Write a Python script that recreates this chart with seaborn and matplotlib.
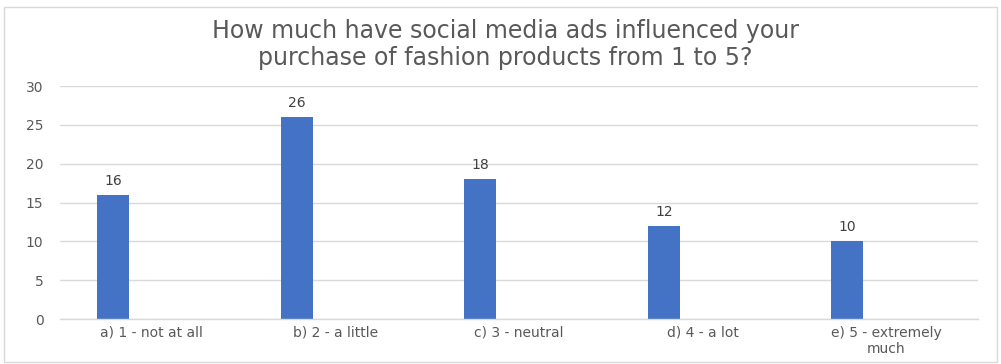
import matplotlib
matplotlib.use("Agg")
import matplotlib.pyplot as plt
import seaborn as sns
import pandas as pd
from matplotlib.patches import Rectangle

categories = ["a) 1 - not at all", "b) 2 - a little", "c) 3 - neutral", "d) 4 - a lot", "e) 5 - extremely\nmuch"]
values = [16, 26, 18, 12, 10]
series_order = ["Series1", "Series2", "Series3"]
yticks = [0, 5, 10, 15, 20, 25, 30]
title = "How much have social media ads influenced your\npurchase of fashion products from 1 to 5?"

sns.set_theme(style="white")
plt.rcParams['font.family'] = ['DejaVu Sans']

df = pd.DataFrame({"category": categories, "value": values, "series": "Series1"})

fig = plt.figure(figsize=(10.01, 3.64), dpi=100)
ax = fig.add_axes([0.060, 0.1236, 0.917, 0.6401])

sns.barplot(data=df, x="category", y="value", hue="series", hue_order=series_order,
            order=categories, palette=["#4472C4", "#ED7D31", "#A5A5A5"],
            dodge=True, width=0.633, gap=0.175, legend=False, ax=ax,
            saturation=1, edgecolor="none")

ax.set_ylim(0, 30)
ax.set_xlim(-0.5, len(categories) - 0.5)
ax.set_yticks(yticks)
ax.yaxis.grid(True, color="#D9D9D9", linewidth=1)
ax.set_axisbelow(True)
for s in ["top", "right", "left"]:
    ax.spines[s].set_visible(False)
ax.spines["bottom"].set_color("#D9D9D9")
ax.spines["bottom"].set_linewidth(1)
ax.set_xlabel("")
ax.set_ylabel("")
ax.tick_params(axis="both", length=0, colors="#595959", labelsize=10)
ax.tick_params(axis="y", pad=12)
ax.tick_params(axis="x", pad=5)
for lab in ax.get_xticklabels():
    lab.set_linespacing(1.15)

for cont in ax.containers:
    ax.bar_label(cont, fmt="%g", padding=5, fontsize=10, color="#404040")

fig.text(0.505, 0.878, title, ha="center", va="center", fontsize=17,
         color="#595959", linespacing=1.2)

fig.patches.append(Rectangle((0.004, 0.006), 0.992, 0.975, transform=fig.transFigure,
                             fill=False, edgecolor="#D9D9D9", linewidth=1))

fig.savefig("out.png", dpi=100, facecolor="white")
